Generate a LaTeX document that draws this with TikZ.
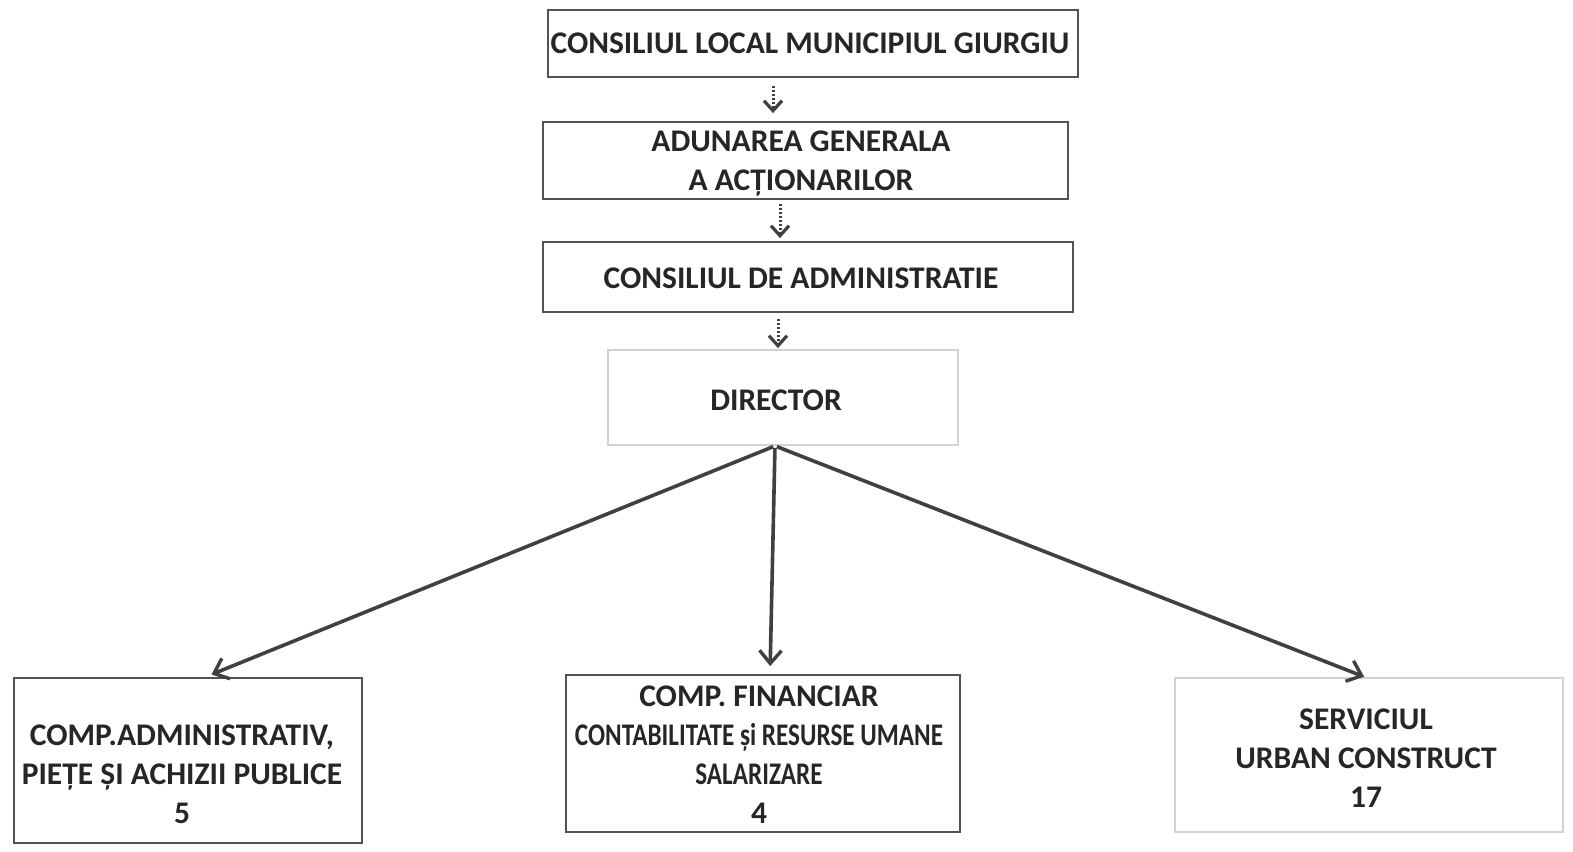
\documentclass[tikz,border=0pt]{standalone}
\usepackage{fontspec}
\usepackage{graphicx}
\setmainfont{Carlito}
\usetikzlibrary{arrows.meta}
\begin{document}
\begin{tikzpicture}[x=1pt,y=-1pt,
  box/.style={draw=gray!65!black, line width=1.8pt, fill=white, inner sep=0pt},
  lightbox/.style={box, draw=gray!35},
  txt/.style={align=center, inner sep=0pt, font=\bfseries\fontsize{31.5}{39}\selectfont, text=black!85},
  arr/.style={draw=gray!50!black, line width=3.6pt, -{Straight Barb[length=13pt,width=22pt,line width=3.4pt]}},
  smallarr/.style={draw=gray!50!black, line width=3pt, dash pattern=on 2pt off 2pt, -{Straight Barb[length=10pt,width=18pt,line width=3.2pt]}}
]
\useasboundingbox (0,0) rectangle (1573,851);
\node[box, minimum width=530pt, minimum height=67pt] (n1) at (813,43.5) {};
\node[txt] (t1) at (810,43.5) {CONSILIUL LOCAL MUNICIPIUL GIURGIU};
\node[box, minimum width=525pt, minimum height=77pt] (n2) at (805.5,160.5) {};
\node[txt] (t2) at (801,163) {ADUNAREA GENERALA\\A ACȚIONARILOR};
\node[box, minimum width=530pt, minimum height=70pt] (n3) at (808,277) {};
\node[txt] (t3) at (801,278) {CONSILIUL DE ADMINISTRATIE};
\node[lightbox, minimum width=350pt, minimum height=95pt] (n4) at (783,397.5) {};
\node[txt] (t4) at (776,400) {DIRECTOR};
\node[box, minimum width=348pt, minimum height=165pt] (n5) at (188,760.5) {};
\node[txt] (t5) at (182,774) {COMP.ADMINISTRATIV,\\PIEȚE ȘI ACHIZII PUBLICE\\5};
\node[box, minimum width=394pt, minimum height=157pt] (n6) at (763,753.5) {};
\node[txt] (t6) at (759,755) {COMP. FINANCIAR\\\scalebox{0.8}[1]{CONTABILITATE și RESURSE UMANE}\\\scalebox{0.8}[1]{SALARIZARE}\\4};
\node[lightbox, minimum width=388pt, minimum height=154pt] (n7) at (1369,755) {};
\node[txt] (t7) at (1366,758) {SERVICIUL\\URBAN CONSTRUCT\\17};
\draw[smallarr, shorten <=8pt, shorten >=8pt] ([xshift=-40pt]n1.south) -- ([xshift=-32.5pt]n2.north);
\draw[smallarr, shorten <=4pt, shorten >=3pt] ([xshift=-25.5pt]n2.south) -- ([xshift=-28pt]n3.north);
\draw[smallarr, shorten <=6pt, shorten >=1pt] ([xshift=-30pt]n3.south) -- ([xshift=-5pt]n4.north);
\draw[arr, shorten <=2pt, shorten >=7pt] ([xshift=-8pt]n4.south) -- ([xshift=17pt]n5.north);
\draw[arr, shorten <=2pt, shorten >=8pt] ([xshift=-8pt]n4.south) -- ([xshift=7pt]n6.north);
\draw[arr, shorten <=2pt, shorten >=1pt] ([xshift=-8pt]n4.south) -- ([xshift=-4pt]n7.north);
\end{tikzpicture}
\end{document}
